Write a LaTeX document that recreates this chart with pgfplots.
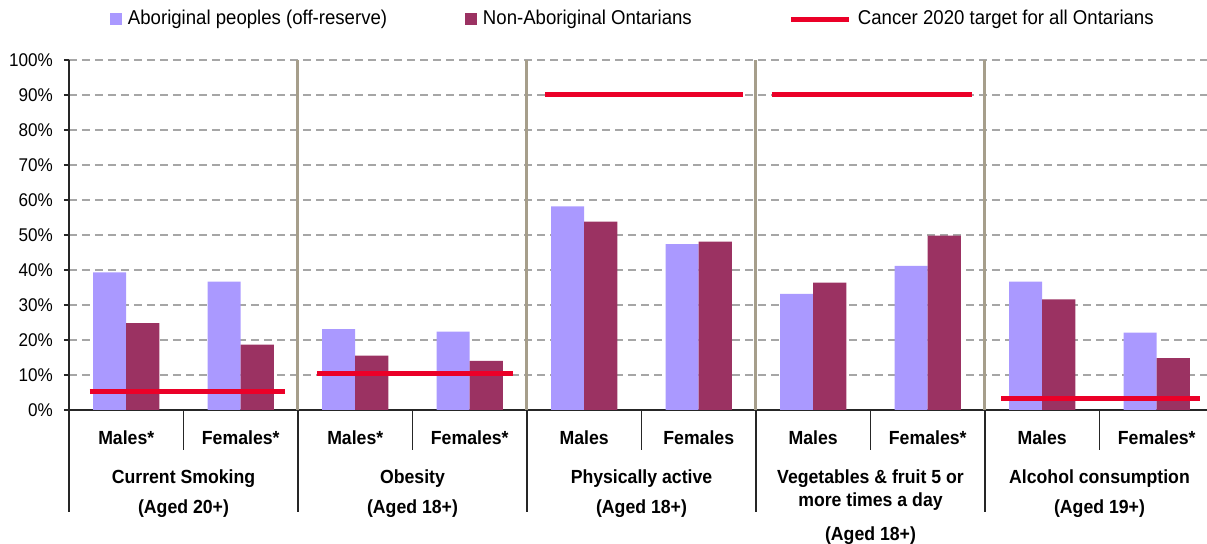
\documentclass[border=0pt]{standalone}
\usepackage{fontspec}
\setmainfont{Liberation Sans}[FakeStretch=0.93]
\usepackage{pgfplots}
\pgfplotsset{compat=1.18}

\definecolor{abor}{RGB}{170,153,255}
\definecolor{nonab}{RGB}{155,50,98}
\definecolor{target}{RGB}{235,0,40}
\definecolor{sepcol}{RGB}{166,158,139}
\definecolor{gridgray}{RGB}{166,166,166}

\newcommand{\lab}{\fontsize{9.5}{11}\selectfont\bfseries}

\begin{document}
\begin{tikzpicture}
\begin{axis}[
  scale only axis,
  width=572.5pt, height=175pt,
  xmin=-0.5, xmax=9.5,
  ymin=0, ymax=100,
  clip=false,
  axis x line*=bottom, axis y line*=left,
  axis line style={black!85, line width=0.6pt},
  xtick={0,...,9},
  xticklabels={Males*,Females*,Males*,Females*,Males,Females,Males,Females*,Males,Females*},
  xticklabel style={font=\lab, anchor=center, yshift=-11.35pt},
  x tick style={draw=none},
  ytick={0,10,...,100},
  yticklabels={0\%,10\%,20\%,30\%,40\%,50\%,60\%,70\%,80\%,90\%,100\%},
  yticklabel style={font=\fontsize{9.2}{11}\selectfont, xshift=-2pt},
  y tick style={black!85, line width=0.6pt},
  tick align=outside,
  major tick length=2.5pt,
  ymajorgrids,
  major grid style={gridgray, line width=0.65pt, dash pattern=on 4pt off 2.5pt},
  legend columns=3,
  legend style={
    at={(0.0358,1.117)}, anchor=west,
    draw=none, fill=none, inner sep=0pt, outer sep=0pt,
    font=\fontsize{10}{12}\selectfont,
    column sep=0pt,
    nodes={inner sep=0pt},
    /tikz/every odd column/.append style={column sep=3pt},
  },
]
% Aboriginal peoples (off-reserve)
\addplot[ybar, bar width=16.6pt, bar shift=-8.3pt, fill=abor, draw=none,
  legend image code/.code={\fill[abor] (0pt,-3pt) rectangle (6pt,3pt);}]
  coordinates {
  (0,39.3) (1,36.7) (2,23.1) (3,22.4) (4,58.2)
  (5,47.4) (6,33.2) (7,41.2) (8,36.7) (9,22.1)
};
\addlegendentry{\makebox[168.5pt][l]{Aboriginal peoples (off-reserve)}}

% Non-Aboriginal Ontarians
\addplot[ybar, bar width=16.6pt, bar shift=8.3pt, fill=nonab, draw=none,
  legend image code/.code={\fill[nonab] (0pt,-3pt) rectangle (6pt,3pt);}]
  coordinates {
  (0,24.8) (1,18.7) (2,15.5) (3,14.0) (4,53.8)
  (5,48.1) (6,36.4) (7,49.8) (8,31.6) (9,14.8)
};
\addlegendentry{\makebox[153pt][l]{Non-Aboriginal Ontarians}}

% Cancer 2020 targets
\addplot[target, line width=2.5pt, sharp plot,
  legend image code/.code={\draw[target, line width=2.5pt] (0pt,0pt) -- (29pt,0pt);}]
  coordinates {(-0.32,5.3) (1.39,5.3)};
\addlegendentry{Cancer 2020 target for all Ontarians}
\addplot[target, line width=2.5pt, sharp plot, forget plot] coordinates {(1.67,10.5) (3.38,10.5)};
\addplot[target, line width=2.5pt, sharp plot, forget plot] coordinates {(3.66,90) (5.39,90)};
\addplot[target, line width=2.5pt, sharp plot, forget plot] coordinates {(5.64,90) (7.39,90)};
\addplot[target, line width=2.5pt, sharp plot, forget plot] coordinates {(7.64,3.4) (9.38,3.4)};

% group separators inside the plot
\foreach \s in {1.5,3.5,5.5,7.5} {
  \edef\tmp{\noexpand\draw[sepcol, line width=1.5pt] (axis cs:\s,0) -- (axis cs:\s,100);}
  \tmp
}
% table lines under the axis
\foreach \s in {-0.5,1.5,3.5,5.5,7.5} {
  \edef\tmp{\noexpand\draw[black!85, line width=0.6pt] (axis cs:\s,0) -- ++(0pt,-51pt);}
  \tmp
}
\foreach \s in {0.5,2.5,4.5,6.5,8.5} {
  \edef\tmp{\noexpand\draw[black!85, line width=0.6pt] (axis cs:\s,0) -- ++(0pt,-20pt);}
  \tmp
}
% group titles
\node[font=\lab] at (axis cs:0.5,0) [yshift=-34.35pt] {Current Smoking};
\node[font=\lab] at (axis cs:0.5,0) [yshift=-49.35pt] {(Aged 20+)};
\node[font=\lab] at (axis cs:2.5,0) [yshift=-34.35pt] {Obesity};
\node[font=\lab] at (axis cs:2.5,0) [yshift=-49.35pt] {(Aged 18+)};
\node[font=\lab] at (axis cs:4.5,0) [yshift=-34.35pt] {Physically active};
\node[font=\lab] at (axis cs:4.5,0) [yshift=-49.35pt] {(Aged 18+)};
\node[font=\lab] at (axis cs:6.5,0) [yshift=-34.35pt] {Vegetables \& fruit 5 or};
\node[font=\lab] at (axis cs:6.5,0) [yshift=-46pt] {more times a day};
\node[font=\lab] at (axis cs:6.5,0) [yshift=-62.65pt] {(Aged 18+)};
\node[font=\lab] at (axis cs:8.5,0) [yshift=-34.35pt] {Alcohol consumption};
\node[font=\lab] at (axis cs:8.5,0) [yshift=-49.35pt] {(Aged 19+)};
\end{axis}
\pgfresetboundingbox
\path[use as bounding box] (-34.5pt,-67pt) rectangle (569pt,205pt);
\end{tikzpicture}
\end{document}
